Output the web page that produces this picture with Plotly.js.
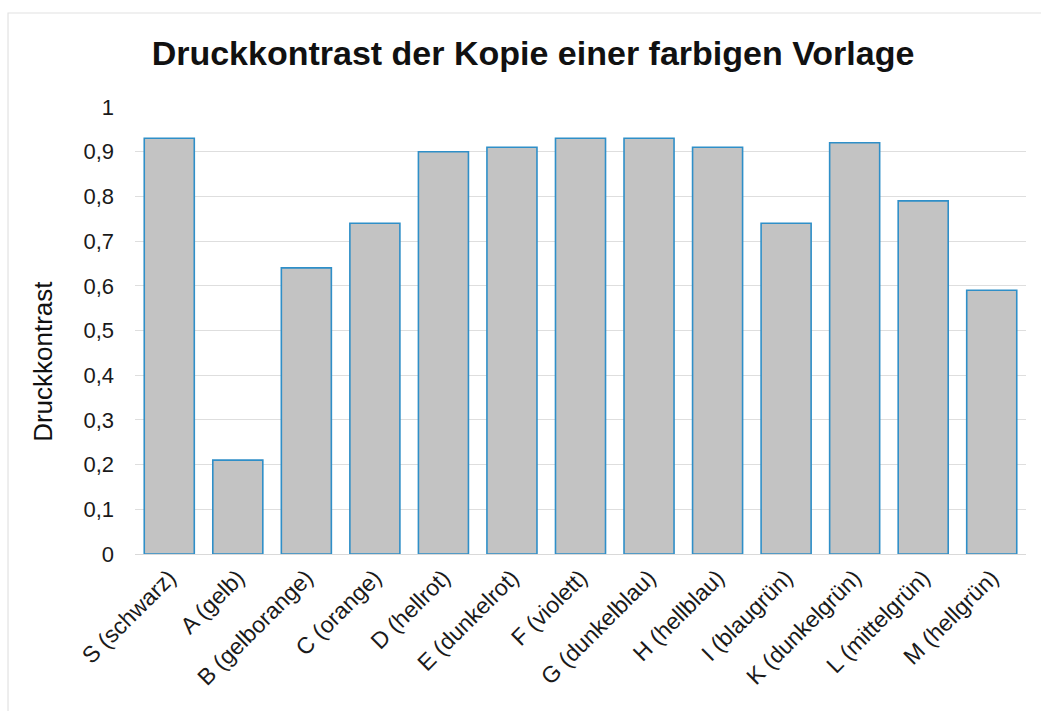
<!DOCTYPE html>
<html><head><meta charset="utf-8">
<script src="https://cdn.plot.ly/plotly-3.0.1.min.js"></script>
<style>body{margin:0;background:#fff}#chart{width:1041px;height:711px}</style>
</head><body><div id="chart"></div>
<script>
const categories = ["S (schwarz)","A (gelb)","B (gelborange)","C (orange)","D (hellrot)","E (dunkelrot)","F (violett)","G (dunkelblau)","H (hellblau)","I (blaugrün)","K (dunkelgrün)","L (mittelgrün)","M (hellgrün)"];
const values = [0.93,0.21,0.64,0.74,0.90,0.91,0.93,0.93,0.91,0.74,0.92,0.79,0.59];
const yTickVals = [0,0.1,0.2,0.3,0.4,0.5,0.6,0.7,0.8,0.9,1];
const yTickText = ["0","0,1","0,2","0,3","0,4","0,5","0,6","0,7","0,8","0,9","1"];
const yTitle = "Druckkontrast";

const trace = {
  type:"bar", x:categories, y:values,
  marker:{color:"#c3c3c3", line:{color:"#2f8fc8", width:1.6}},
  hoverinfo:"x+y"
};
const layout = {
  width:1041, height:711,
  paper_bgcolor:"#fff", plot_bgcolor:"#fff",
  margin:{l:135,r:15,t:107,b:157},
  bargap:0.27,
  font:{family:"Liberation Sans, Arial, sans-serif", color:"#1a1a1a"},
  title:{text:"<b>Druckkontrast der Kopie einer farbigen Vorlage</b>", font:{size:34,color:"#111"}, x:0.512, xanchor:"center", y:0.926, yanchor:"middle"},
  xaxis:{tickangle:-45, tickfont:{size:23,color:"#1a1a1a"}, showgrid:false, showline:true, linecolor:"#d9d9d9", ticks:"", fixedrange:true, automargin:false},
  yaxis:{range:[0,1], tickvals:yTickVals, ticktext:yTickText, tickfont:{size:22,color:"#1a1a1a"}, gridcolor:"#dedede", gridwidth:1, zeroline:false, ticks:"", ticklen:0, ticklabelstandoff:20, automargin:false},
  annotations:[{text:yTitle, xref:"paper", yref:"paper", x:-0.1033, y:0.432, xanchor:"center", yanchor:"middle", textangle:-90, showarrow:false, font:{size:26,color:"#111"}}],
  shapes:[{type:"rect", xref:"paper", yref:"paper", x0:-0.1425, x1:1.05, y0:-0.4, y1:1.2103, line:{color:"#e2e2e2", width:1.2}}],
  showlegend:false
};
Plotly.newPlot("chart",[trace],layout,{displayModeBar:false,staticPlot:true});
</script></body></html>
